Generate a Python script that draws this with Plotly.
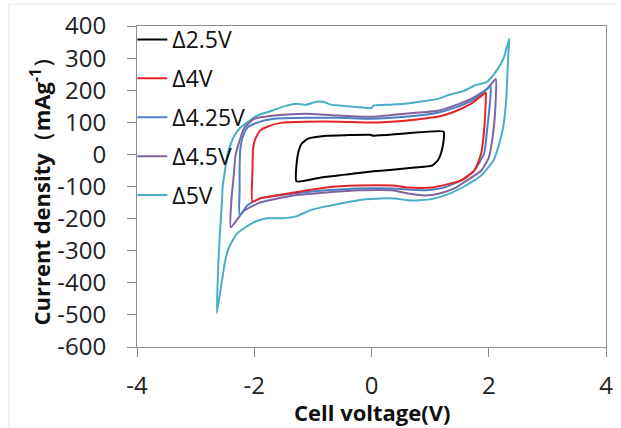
import plotly.graph_objects as go

# ---- data ----
names = ["Δ2.5V", "Δ4V", "Δ4.25V", "Δ4.5V", "Δ5V"]
colors = ["#000000", "#e3242b", "#4f7fc0", "#8064a2", "#4bacc6"]

v_25 = [-1.28, -1.28, -1.24, -1.19, -1.08, -0.77, -0.44, -0.02, 0.03, 0.57, 1.23,
        1.23, 1.19, 1.13, 1.03, 0.74, 0.40, 0.00, -0.44, -0.86, -1.28]
i_25 = [-84, -35, 12, 34, 49, 58, 60, 61, 58, 65, 71,
        43, 6, -19, -35, -41, -47, -53, -63, -72, -84]

v_4 = [-2.03, -2.03, -2.02, -1.98, -1.90, -1.78, -1.53, -1.11, -0.55, 0.00, 0.57, 0.86,
       1.13, 1.41, 1.70, 1.95, 1.95, 1.92, 1.87, 1.75, 1.53, 1.03, 0.62, 0.35, -0.22,
       -0.77, -1.33, -1.90, -2.03]
i_4 = [-147, -51, 18, 49, 74, 86, 99, 102, 102, 99, 105, 111,
       117, 133, 158, 192, 176, 74, 2, -51, -81, -103, -103, -97, -97,
       -103, -119, -137, -147]

v_425 = [-2.25, -2.25, -2.25, -2.24, -2.20, -2.12, -1.95, -1.66, -1.11, -0.55, 0.02, 0.57,
         1.13, 1.41, 1.70, 1.92, 2.03, 2.03, 1.97, 1.92, 1.75, 1.53, 1.24, 0.91, 0.35,
         -0.22, -0.77, -1.33, -1.90, -2.12, -2.25]
i_425 = [-190, -112, -51, 12, 52, 83, 99, 111, 114, 114, 111, 117,
         130, 145, 167, 195, 214, 183, 74, 2, -51, -81, -103, -112, -106,
         -106, -112, -122, -137, -159, -190]

v_45 = [-2.40, -2.39, -2.35, -2.32, -2.25, -2.17, -2.00, -1.66, -1.11, -0.55, 0.02, 0.57,
        1.13, 1.41, 1.70, 1.97, 2.12, 2.12, 2.08, 2.00, 1.87, 1.63, 1.41, 1.16, 0.91,
        0.62, 0.35, -0.22, -0.77, -1.33, -1.90, -2.17, -2.40]
i_45 = [-227, -143, -66, -4, 43, 83, 111, 121, 127, 121, 117, 127,
        136, 152, 173, 204, 235, 176, 74, -10, -51, -81, -106, -122, -128,
        -122, -112, -112, -119, -128, -150, -175, -227]

v_5 = [-2.64, -2.61, -2.59, -2.55, -2.54, -2.50, -2.45, -2.35, -2.24, -2.08, -1.95, -1.70,
       -1.45, -1.28, -1.11, -0.94, -0.82, -0.69, -0.55, -0.27, 0.00, 0.03, 0.32, 0.57,
       0.82, 1.13, 1.33, 1.58, 1.75, 1.97, 2.13, 2.25, 2.35, 2.34, 2.32, 2.30, 2.25,
       2.17, 2.08, 1.87, 1.58, 1.33, 1.08, 0.82, 0.62, 0.40, 0.15, -0.10, -0.35, -0.61,
       -0.86, -1.06, -1.28, -1.53, -1.78, -1.98, -2.15, -2.29, -2.37, -2.45, -2.50,
       -2.55, -2.59, -2.64]
i_5 = [-494, -330, -258, -143, -103, -51, 6, 55, 83, 105, 121, 136,
       152, 158, 155, 164, 164, 155, 152, 148, 145, 152, 155, 158,
       164, 173, 186, 198, 214, 226, 260, 298, 360, 329, 260, 176, 89,
       27, -19, -66, -100, -122, -137, -143, -143, -137, -137, -140, -147, -156,
       -165, -175, -193, -199, -199, -209, -227, -246, -268, -299, -336,
       -392, -439, -494]

x_ticks = [-4, -2, 0, 2, 4]
x_labels = ["-4", "-2", "0", "2", "4"]
y_ticks = [-600, -500, -400, -300, -200, -100, 0, 100, 200, 300, 400]
y_labels = ["-600", "-500", "-400", "-300", "-200", "-100", "0", "100", "200", "300", "400"]

series_v = [v_25, v_4, v_425, v_45, v_5]
series_i = [i_25, i_4, i_425, i_45, i_5]

fig = go.Figure()
# draw the widest loop first so inner loops sit on top
for k in reversed(range(len(names))):
    fig.add_trace(go.Scatter(
        x=series_v[k], y=series_i[k], mode="lines", name=names[k],
        legendgroup=names[k], legendrank=k + 1,
        line=dict(color=colors[k], width=2, shape="spline", smoothing=0.5),
    ))

axis_common = dict(
    showline=True, mirror=True, linecolor="#8c8c8c", linewidth=1,
    ticks="outside", ticklen=9, tickcolor="#8c8c8c", tickwidth=1,
    showgrid=False, zeroline=False,
    tickfont=dict(family="Open Sans", size=24, color="#222222"),
)

fig.update_xaxes(range=[-4, 4], tickvals=x_ticks, ticktext=x_labels,
                 ticklabelstandoff=8, **axis_common)
fig.update_yaxes(range=[-600, 400], tickvals=y_ticks, ticktext=y_labels,
                 ticklabelstandoff=16, **axis_common)

fig.update_layout(
    width=621, height=428,
    margin=dict(l=137, r=8, t=25, b=81),
    paper_bgcolor="white", plot_bgcolor="white",
    showlegend=True,
    legend=dict(
        x=-0.01, y=1.025, xanchor="left", yanchor="top",
        bgcolor="rgba(255,255,255,0)", borderwidth=0,
        font=dict(family="Open Sans", size=23, color="#111111"),
        tracegroupgap=6, itemwidth=30,
    ),
    annotations=[
        dict(text="<b>Cell voltage(V)</b>", xref="paper", yref="paper",
             x=0.5, y=0, yshift=-65, xanchor="center", yanchor="middle",
             showarrow=False, font=dict(family="Open Sans", size=22, color="#111111")),
        dict(text="<b>Current density（mAg<sup>-1</sup>）</b>", xref="paper", yref="paper",
             x=0, y=0.5, xshift=-97, xanchor="center", yanchor="middle", textangle=-90,
             showarrow=False, font=dict(family="Open Sans", size=22, color="#111111")),
    ],
    shapes=[
        dict(type="line", xref="paper", yref="paper", x0=-0.273, x1=1.02, y0=1.068, y1=1.068,
             line=dict(color="#e8e8e8", width=1)),
        dict(type="line", xref="paper", yref="paper", x0=-0.273, x1=-0.273, y0=-0.26, y1=1.068,
             line=dict(color="#e8e8e8", width=1)),
    ],
)

fig.write_html("out.html")
